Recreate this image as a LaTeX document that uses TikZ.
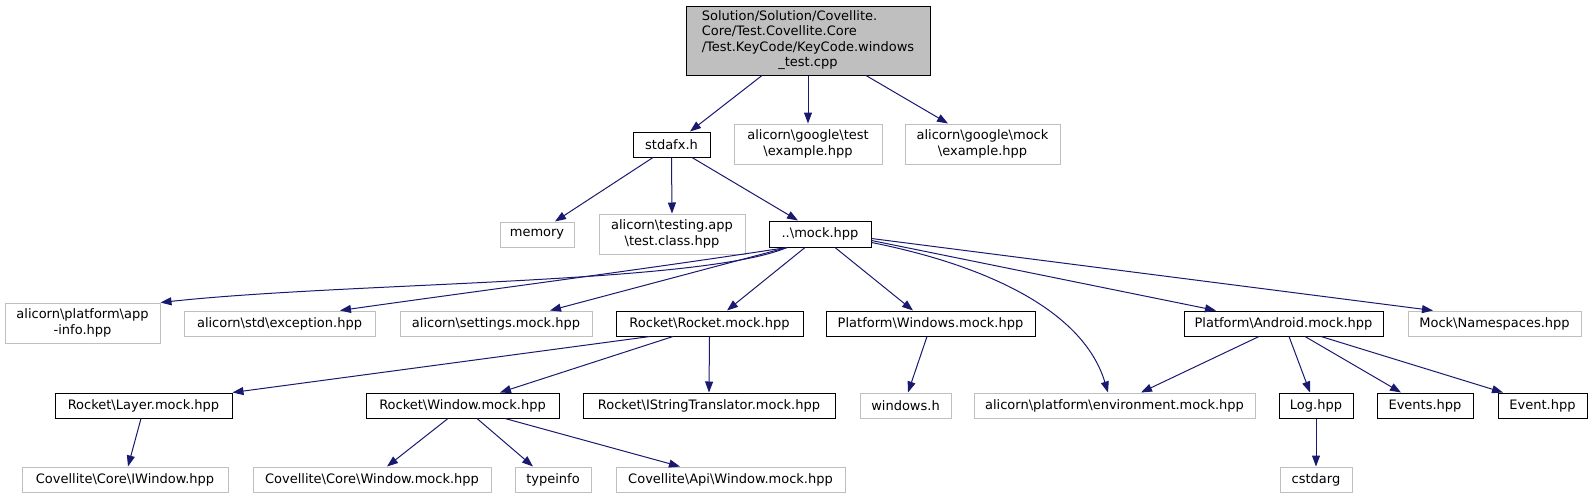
\documentclass[tikz,border=0pt]{standalone}
\usepackage{fontspec}
\setmainfont{DejaVu Sans}
\usetikzlibrary{arrows.meta}
\definecolor{edgeblue}{HTML}{191970}
\definecolor{extgray}{HTML}{BFBFBF}

\begin{document}
\begin{tikzpicture}[x=1pt, y=-1pt,
    font=\fontsize{13}{15.3}\selectfont,
    box/.style={rectangle, inner sep=0pt, minimum height=25pt},
    file/.style={box, draw=black, line width=1pt, fill=white},
    ext/.style={box, draw=extgray, line width=1pt, fill=white},
    main/.style={file, fill=extgray, minimum width=244pt, minimum height=69pt},
    inc/.style={draw=edgeblue, line width=1pt, -{Triangle[length=11pt, width=8pt]}}]
    \useasboundingbox (0, 0) rectangle (1593, 499);

    \node[main] (top) at (808, 40.5) {\begin{tabular}{@{}l@{}}Solution/Solution/Covellite.\\Core/Test.Covellite.Core\\/Test.KeyCode/KeyCode.windows\\\multicolumn{1}{@{}c@{}}{\_test.cpp}\end{tabular}};

    \node[file, minimum width=77pt] (stdafx) at (671.5, 144.5) {stdafx.h};
    \node[ext, minimum width=148pt, minimum height=40pt, align=center] (gtest) at (808, 144) {alicorn\textbackslash google\textbackslash test\\\textbackslash example.hpp};
    \node[ext, minimum width=155pt, minimum height=40pt, align=center] (gmock) at (982.5, 144) {alicorn\textbackslash google\textbackslash mock\\\textbackslash example.hpp};

    \node[ext, minimum width=74pt] (memory) at (537, 234.5) {memory};
    \node[ext, minimum width=146pt, minimum height=40pt, align=center] (testapp) at (672, 234) {alicorn\textbackslash testing.app\\\textbackslash test.class.hpp};
    \node[file, minimum width=102pt, minimum height=26pt] (mock) at (820, 234) {..\textbackslash mock.hpp};

    \node[ext, minimum width=155pt, minimum height=40pt, align=center] (appinfo) at (82.5, 323) {alicorn\textbackslash platform\textbackslash app\\-info.hpp};
    \node[ext, minimum width=191pt] (exception) at (279.5, 323.5) {alicorn\textbackslash std\textbackslash exception.hpp};
    \node[ext, minimum width=192pt] (settings) at (496, 323.5) {alicorn\textbackslash settings.mock.hpp};
    \node[file, minimum width=187pt] (rocket) at (709.5, 323.5) {Rocket\textbackslash Rocket.mock.hpp};
    \node[file, minimum width=209pt] (windows) at (930.5, 323.5) {Platform\textbackslash Windows.mock.hpp};
    \node[file, minimum width=199pt] (android) at (1283.5, 323.5) {Platform\textbackslash Android.mock.hpp};
    \node[ext, minimum width=173pt] (namespaces) at (1494.5, 323.5) {Mock\textbackslash Namespaces.hpp};

    \node[file, minimum width=177pt] (layer) at (143.5, 405.5) {Rocket\textbackslash Layer.mock.hpp};
    \node[file, minimum width=193pt] (window) at (462.5, 405.5) {Rocket\textbackslash Window.mock.hpp};
    \node[file, minimum width=252pt] (istring) at (709, 405.5) {Rocket\textbackslash IStringTranslator.mock.hpp};
    \node[ext, minimum width=91pt] (windowsh) at (905.5, 405.5) {windows.h};
    \node[ext, minimum width=281pt] (environment) at (1114.5, 405.5) {alicorn\textbackslash platform\textbackslash environment.mock.hpp};
    \node[file, minimum width=74pt] (log) at (1316, 405.5) {Log.hpp};
    \node[file, minimum width=96pt] (events) at (1425, 405.5) {Events.hpp};
    \node[file, minimum width=89pt] (event) at (1542.5, 405.5) {Event.hpp};

    \node[ext, minimum width=206pt] (iwindow) at (125, 479.5) {Covellite\textbackslash Core\textbackslash IWindow.hpp};
    \node[ext, minimum width=238pt] (corewindow) at (372, 479.5) {Covellite\textbackslash Core\textbackslash Window.mock.hpp};
    \node[ext, minimum width=76pt] (typeinfo) at (553, 479.5) {typeinfo};
    \node[ext, minimum width=229pt] (apiwindow) at (730.5, 479.5) {Covellite\textbackslash Api\textbackslash Window.mock.hpp};
    \node[ext, minimum width=72pt] (cstdarg) at (1316, 479.5) {cstdarg};

    \draw[inc] ([xshift=-46pt]top.south) -- ([xshift=18.5pt]stdafx.north);
    \draw[inc] (top.south) -- (gtest.north);
    \draw[inc] ([xshift=58pt]top.south) -- ([xshift=-34.5pt]gmock.north);

    \draw[inc] ([xshift=-18.5pt]stdafx.south) -- ([xshift=18pt]memory.north);
    \draw[inc] (stdafx.south) -- (testapp.north);
    \draw[inc] ([xshift=20.5pt]stdafx.south) -- ([xshift=-22pt]mock.north);

    \draw[inc] ([xshift=-33pt]mock.south) .. controls (700, 284) and (350, 282) .. (appinfo.north east);
    \draw[inc] ([xshift=-33pt]mock.south) .. controls (640, 270) and (470, 292) .. ([xshift=60.5pt]exception.north);
    \draw[inc] ([xshift=-33pt]mock.south) -- ([xshift=54pt]settings.north);
    \draw[inc] ([xshift=-15pt]mock.south) -- ([xshift=17.5pt]rocket.north);
    \draw[inc] ([xshift=15pt]mock.south) -- ([xshift=-17.5pt]windows.north);
    \draw[inc] ([yshift=5pt]mock.south east) .. controls (960, 260) and (1080, 300) .. ([xshift=-6.5pt]environment.north);
    \draw[inc] ([yshift=7pt]mock.south east) -- ([xshift=-67.5pt]android.north);
    \draw[inc] ([yshift=9pt]mock.south east) -- ([xshift=-61.5pt]namespaces.north);

    \draw[inc] ([xshift=-59.5pt]rocket.south) -- (layer.north east);
    \draw[inc] ([xshift=-36.5pt]rocket.south) -- ([xshift=37.5pt]window.north);
    \draw[inc] (rocket.south) -- (istring.north);
    \draw[inc] ([xshift=-3.5pt]windows.south) -- ([xshift=2.5pt]windowsh.north);

    \draw[inc] ([xshift=-24.5pt]android.south) -- ([xshift=26.5pt]environment.north);
    \draw[inc] ([xshift=5.5pt]android.south) -- ([xshift=-6pt]log.north);
    \draw[inc] ([xshift=21.5pt]android.south) -- ([xshift=-24pt]events.north);
    \draw[inc] ([xshift=37.5pt]android.south) -- ([xshift=-39.5pt]event.north);

    \draw[inc] ([xshift=-2.5pt]layer.south) -- ([xshift=3pt]iwindow.north);
    \draw[inc] ([xshift=-14.5pt]window.south) -- ([xshift=15pt]corewindow.north);
    \draw[inc] ([xshift=14.5pt]window.south) -- ([xshift=-20pt]typeinfo.north);
    \draw[inc] ([xshift=42.5pt]window.south) -- ([xshift=-50.5pt]apiwindow.north);
    \draw[inc] (log.south) -- (cstdarg.north);
\end{tikzpicture}
\end{document}
